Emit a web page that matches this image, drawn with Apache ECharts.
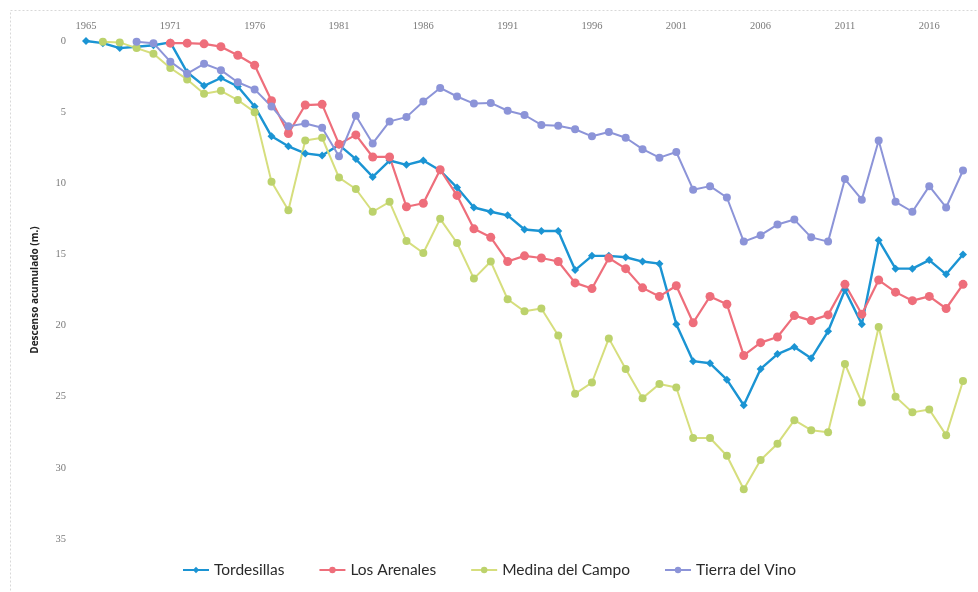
<!DOCTYPE html>
<html>
<head>
<meta charset="utf-8">
<script src="https://cdn.jsdelivr.net/npm/echarts@6/dist/echarts.min.js"></script>
<style>
html,body{margin:0;padding:0;background:#fff;}
#chart{width:978px;height:592px;}
</style>
</head>
<body>
<div id="chart"></div>
<script>
const years = ['1965','1967','1968','1969','1970','1971','1972','1973','1974','1975','1976','1977','1978','1979','1980','1981','1982','1983','1984','1985','1986','1987','1988','1989','1990','1991','1992','1993','1994','1995','1996','1997','1998','1999','2000','2001','2002','2003','2004','2005','2006','2007','2008','2009','2010','2011','2012','2013','2014','2015','2016','2017','2018'];

const tordesillas = [0,0.15,0.5,0.4,0.3,0.1,2.2,3.15,2.6,3.2,4.6,6.7,7.4,7.9,8.05,7.3,8.3,9.55,8.4,8.7,8.4,9.1,10.3,11.7,12.0,12.25,13.25,13.35,13.35,16.1,15.1,15.1,15.2,15.5,15.65,19.9,22.5,22.65,23.8,25.6,23.05,22.0,21.5,22.3,20.4,17.5,19.9,14.0,16.0,16.0,15.4,16.4,15.0];

const losArenales = [null,null,null,null,null,0.15,0.15,0.2,0.4,1.0,1.7,4.2,6.5,4.5,4.45,7.25,6.6,8.15,8.15,11.65,11.4,9.05,10.85,13.2,13.8,15.5,15.1,15.25,15.5,17.0,17.4,15.25,16.0,17.35,17.95,17.2,19.8,17.95,18.5,22.1,21.2,20.8,19.3,19.65,19.25,17.1,19.2,16.8,17.65,18.25,17.95,18.8,17.1];

const medinaDelCampo = [null,0.05,0.1,0.5,0.9,1.9,2.7,3.7,3.5,4.15,5.0,9.9,11.9,7.0,6.8,9.6,10.4,12.0,11.3,14.05,14.9,12.5,14.2,16.7,15.5,18.15,19.0,18.8,20.7,24.8,24.0,20.9,23.05,25.1,24.1,24.35,27.9,27.9,29.15,31.5,29.45,28.3,26.65,27.35,27.5,22.7,25.4,20.1,25.0,26.1,25.9,27.7,23.9];

const tierraDelVino = [null,null,null,0.05,0.15,1.45,2.3,1.6,2.05,2.9,3.4,4.6,6.0,5.8,6.1,8.1,5.25,7.2,5.65,5.35,4.25,3.3,3.9,4.4,4.35,4.9,5.2,5.9,5.95,6.2,6.7,6.4,6.8,7.6,8.2,7.8,10.45,10.2,11.0,14.1,13.65,12.9,12.55,13.8,14.1,9.7,11.15,7.0,11.3,12.0,10.2,11.7,9.1];

const seriesNames = ['Tordesillas','Los Arenales','Medina del Campo','Tierra del Vino'];
const yTicks = [0,5,10,15,20,25,30,35];

const chart = echarts.init(document.getElementById('chart'), null, {renderer:'canvas'});

function mk(name, data, color, lineColor, symbol, size, width){
  return {
    name: name, type: 'line', data: data,
    symbol: symbol, symbolSize: size, showSymbol: true,
    connectNulls: false,
    itemStyle: {color: color, borderWidth: 0},
    lineStyle: {color: lineColor, width: width},
    emphasis: {disabled: true},
    animation: false
  };
}

chart.setOption({
  backgroundColor: '#ffffff',
  animation: false,
  graphic: [{
    type: 'rect', left: 8, top: 8, silent: true,
    shape: {width: 990, height: 600},
    style: {fill: 'none', stroke: '#d8d8d8', lineWidth: 1, lineDash: [2,2]}
  }],
  grid: {left: 86, right: 15, top: 41, bottom: 53, containLabel: false},
  legend: {
    bottom: 9, left: 'center',
    itemWidth: 26, itemHeight: 8, itemGap: 34,
    textStyle: {fontFamily: 'Lato', fontSize: 15.5, color: '#2a2a2a'},
    data: seriesNames
  },
  xAxis: {
    type: 'category', data: years, position: 'top', boundaryGap: false,
    axisLine: {show: false}, axisTick: {show: false},
    splitLine: {show: false},
    axisLabel: {interval: 4, margin: 9, fontFamily: 'Liberation Serif', fontSize: 10.5, color: '#7a7a7a'}
  },
  yAxis: {
    type: 'value', inverse: true, min: 0, max: 35, interval: 5,
    name: 'Descenso acumulado (m.)', nameLocation: 'middle', nameGap: 46, nameRotate: 90,
    nameTextStyle: {fontFamily: 'Open Sans', fontSize: 10, fontWeight: 'bold', color: '#222'},
    axisLine: {show: false}, axisTick: {show: false},
    splitLine: {show: false},
    axisLabel: {margin: 20, fontFamily: 'Liberation Serif', fontSize: 10.5, color: '#7a7a7a'}
  },
  series: [
    mk(seriesNames[0], tordesillas, '#1b94d3', '#1b94d3', 'diamond', 8, 2.4),
    mk(seriesNames[1], losArenales, '#ee6e7b', '#ee6e7b', 'circle', 9, 2.2),
    mk(seriesNames[2], medinaDelCampo, '#bcd26c', '#d6de7d', 'circle', 8, 2),
    mk(seriesNames[3], tierraDelVino, '#8c94d8', '#8c94d8', 'circle', 8, 2)
  ]
});
</script>
</body>
</html>
